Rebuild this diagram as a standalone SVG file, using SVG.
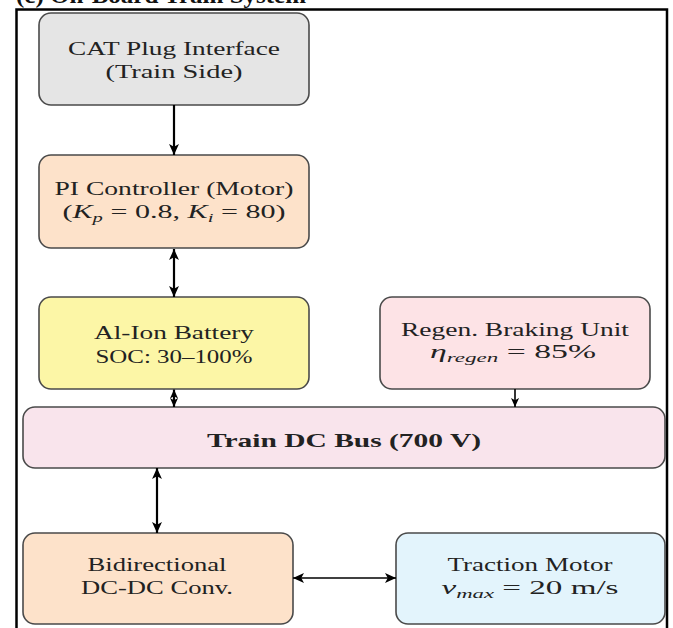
<svg xmlns="http://www.w3.org/2000/svg" width="673" height="628" viewBox="0 0 673 628">
  <style>
    .box { stroke: #4a4a4a; stroke-width: 1.6; }
    .t { font-family: "Liberation Serif", "Times New Roman", serif; font-size: 19px; fill: #222; text-anchor: middle; }
    .b { font-weight: bold; }
    .i { font-style: italic; }
    .sub { font-style: italic; font-size: 13px; }
    .c-thick { stroke: #000; stroke-width: 2.2; fill: none; }
    .c-thin { stroke: #000; stroke-width: 1.6; fill: none; }
  </style>
  <defs>
    <marker id="ah" viewBox="0 0 10 10" refX="10" refY="5" markerWidth="11" markerHeight="11" markerUnits="userSpaceOnUse" orient="auto-start-reverse">
      <path d="M0,0.5 L10,5 L0,9.5 L2.5,5 z" fill="#000"/>
    </marker>
    <marker id="ahs" viewBox="0 0 10 10" refX="10" refY="5" markerWidth="9" markerHeight="9" markerUnits="userSpaceOnUse" orient="auto-start-reverse">
      <path d="M0,0.5 L10,5 L0,9.5 L2.5,5 z" fill="#000"/>
    </marker>
  </defs>
  <rect width="673" height="628" fill="#fff"/>

  <!-- title (cut off at top) -->
  <text x="16" y="3" font-family="Liberation Serif, Times New Roman, serif" font-size="24" font-weight="bold" fill="#111" textLength="290" lengthAdjust="spacingAndGlyphs">(c) On-Board Train System</text>

  <!-- frame -->
  <path d="M16.5,628 V9.5 H667 V628" fill="none" stroke="#000" stroke-width="2.5"/>

  <g id="cat">
    <rect class="box" x="39" y="13" width="270" height="92" rx="12" fill="#e5e5e5"/>
    <text class="t" x="174" y="55" textLength="212" lengthAdjust="spacingAndGlyphs">CAT Plug Interface</text>
    <text class="t" x="174" y="78" textLength="137" lengthAdjust="spacingAndGlyphs">(Train Side)</text>
  </g>

  <g id="pi">
    <rect class="box" x="39" y="155" width="270" height="93" rx="12" fill="#fde2ca"/>
    <text class="t" x="174" y="195" textLength="239" lengthAdjust="spacingAndGlyphs">PI Controller (Motor)</text>
    <text class="t" x="174" y="218" textLength="223" lengthAdjust="spacingAndGlyphs">(<tspan class="i">K</tspan><tspan class="sub" dy="4">p</tspan><tspan dy="-4"> = 0.8, </tspan><tspan class="i">K</tspan><tspan class="sub" dy="4">i</tspan><tspan dy="-4"> = 80)</tspan></text>
  </g>

  <g id="battery">
    <rect class="box" x="39" y="297" width="270" height="92" rx="12" fill="#fcf6a6"/>
    <text class="t" x="174" y="339" textLength="160" lengthAdjust="spacingAndGlyphs">Al-Ion Battery</text>
    <text class="t" x="174" y="363" textLength="157" lengthAdjust="spacingAndGlyphs">SOC: 30–100%</text>
  </g>

  <g id="regen">
    <rect class="box" x="380" y="297" width="270" height="92" rx="12" fill="#fde3e6"/>
    <text class="t" x="515" y="336" textLength="228" lengthAdjust="spacingAndGlyphs">Regen.  Braking Unit</text>
    <text class="t" x="513" y="358" textLength="166" lengthAdjust="spacingAndGlyphs"><tspan class="i">η</tspan><tspan class="sub" dy="4">regen</tspan><tspan dy="-4">  =  85%</tspan></text>
  </g>

  <g id="bus">
    <rect class="box" x="23" y="407" width="642" height="61" rx="12" fill="#f9e4ec"/>
    <text class="t b" x="344" y="447" textLength="274" lengthAdjust="spacingAndGlyphs">Train DC Bus (700 V)</text>
  </g>

  <g id="converter">
    <rect class="box" x="23" y="533" width="270" height="91" rx="12" fill="#fde2ca"/>
    <text class="t" x="157" y="571" textLength="139" lengthAdjust="spacingAndGlyphs">Bidirectional</text>
    <text class="t" x="157" y="594" textLength="152" lengthAdjust="spacingAndGlyphs">DC-DC Conv.</text>
  </g>

  <g id="motor">
    <rect class="box" x="396" y="533" width="269" height="91" rx="12" fill="#e3f4fc"/>
    <text class="t" x="530" y="571" textLength="165" lengthAdjust="spacingAndGlyphs">Traction Motor</text>
    <text class="t" x="530" y="594" textLength="177" lengthAdjust="spacingAndGlyphs"><tspan class="i">v</tspan><tspan class="sub" dy="4">max</tspan><tspan dy="-4">  =  20 m/s</tspan></text>
  </g>

  <g id="connectors">
    <line class="c-thick" x1="174" y1="105" x2="174" y2="155" marker-end="url(#ah)"/>
    <line class="c-thick" x1="174" y1="249" x2="174" y2="297" marker-start="url(#ah)" marker-end="url(#ah)"/>
    <line class="c-thick" x1="174" y1="389.5" x2="174" y2="407" marker-start="url(#ahs)" marker-end="url(#ahs)"/>
    <line class="c-thin" x1="515" y1="389" x2="515" y2="407" marker-end="url(#ahs)"/>
    <line class="c-thick" x1="157" y1="468" x2="157" y2="533" marker-start="url(#ah)" marker-end="url(#ah)"/>
    <line class="c-thin" x1="293" y1="578" x2="396" y2="578" marker-start="url(#ah)" marker-end="url(#ah)"/>
  </g>
</svg>
